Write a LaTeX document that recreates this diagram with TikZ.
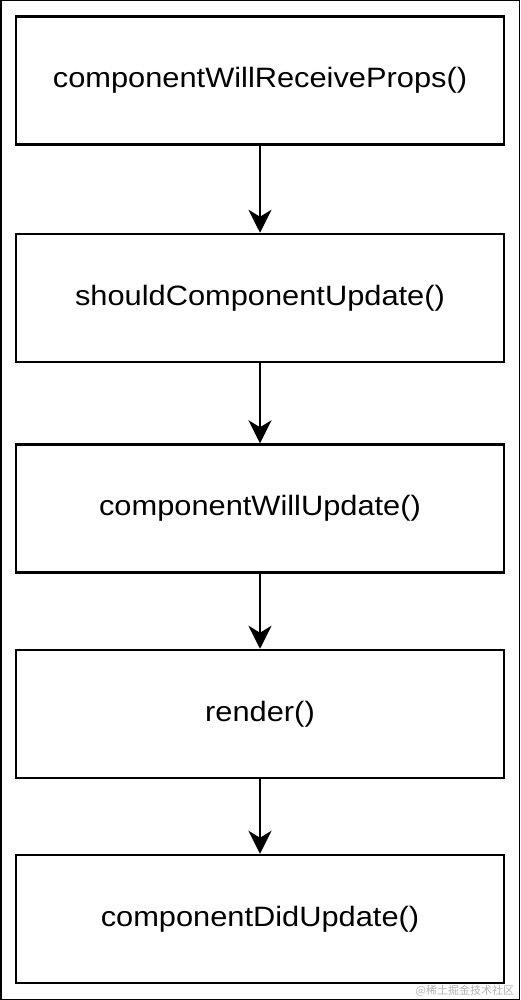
\documentclass[tikz,border=0pt]{standalone}
\usepackage{fontspec}
\setmainfont{Liberation Sans}[FakeStretch=1.1]
\newfontfamily\cjkfont{Noto Sans CJK SC}
\usetikzlibrary{arrows.meta,positioning}
\tikzset{stage/.style={draw=black,line width=1.25pt,rectangle,inner sep=0pt,minimum width=244pt,minimum height=64pt,font=\fontsize{14}{16}\selectfont}}

\begin{document}
\begin{tikzpicture}[->, >={Stealth[length=11.5pt,width=11.5pt,inset=3.5pt]}, line width=1pt, x=0.5pt, y=-0.5pt]
        \useasboundingbox (0,0) rectangle (520,1000);
        \draw[-, line width=0.75pt] (0.75,0.75) rectangle (519.25,999.25);
        \node[stage] (receive) at (260,80.5) {componentWillReceiveProps()};
        \node[stage] (should) at (260,298) {shouldComponentUpdate()};
        \node[stage] (willupd) at (260,508.5) {componentWillUpdate()};
        \node[stage] (render) at (260,714) {render()};
        \node[stage] (didupd) at (260,919) {componentDidUpdate()};
        \path (receive) edge node {} (should);
        \path (should) edge node {} (willupd);
        \path (willupd) edge node {} (render);
        \path (render) edge node {} (didupd);
        \node[anchor=east, inner sep=0pt, text=black!30, font=\cjkfont\fontsize{5.5}{6}\selectfont] (mark) at (515,991) {@稀土掘金技术社区};
\end{tikzpicture}
\end{document}
